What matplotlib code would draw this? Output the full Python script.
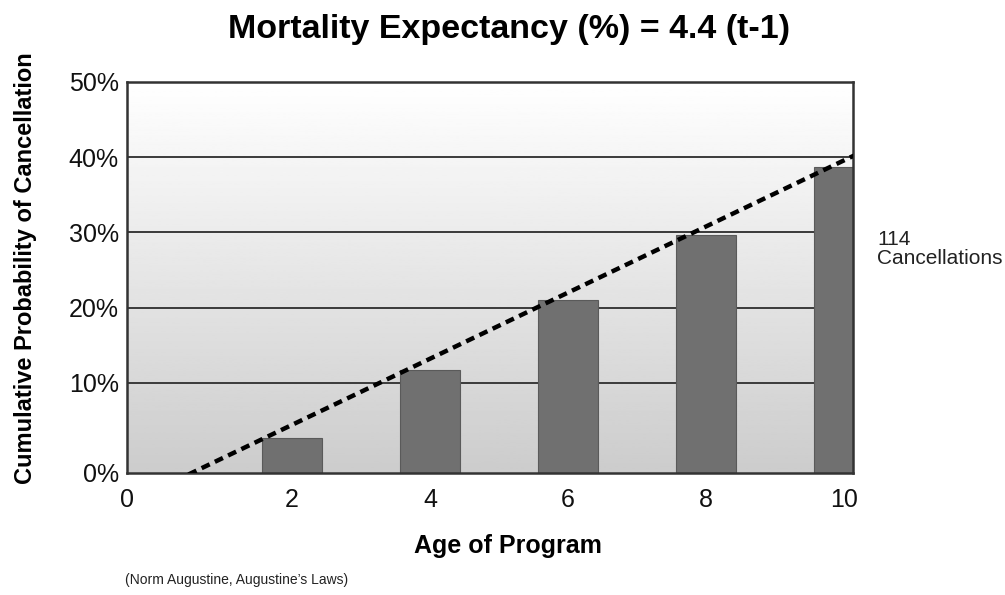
import numpy as np
import matplotlib
matplotlib.use("Agg")
import matplotlib.pyplot as plt

# program age (years) and cumulative probability of cancellation (%)
ages = [2, 4, 6, 8, 10]
cancel_pct = [2.6, 11.7, 21.0, 29.6, 38.7]

# trend line: 4.4 * (t - 1)
trend_t = [0.5, 10.3]
trend_pct = [-2.2, 40.9]

tick_vals = [-0.39, 2, 4, 6, 8, 10]
tick_labels = ["0", "2", "4", "6", "8", "10"]
ytick_vals = [-2, 10, 20, 30, 40, 50]
ytick_labels = ["0%", "10%", "20%", "30%", "40%", "50%"]

plt.rcParams["font.family"] = ["Liberation Sans", "DejaVu Sans"]

fig = plt.figure(figsize=(10.05, 5.95), dpi=100)
ax = fig.add_axes([127 / 1005, 1 - 473 / 595, 726 / 1005, 391 / 595])

x0, x1 = -0.39, 10.13
y0, y1 = -2, 50

# background gradient: white at the top, light grey at the bottom
grad = np.linspace(0.80, 1.0, 256).reshape(-1, 1)
ax.imshow(grad, cmap="gray", vmin=0, vmax=1, origin="lower",
          extent=[x0, x1, y0, y1], aspect="auto", zorder=0)

for g in [10, 20, 30, 40]:
    ax.axhline(g, color="#3a3a3a", lw=1.4, zorder=1)

ax.bar(ages, [v - y0 for v in cancel_pct], bottom=y0, width=0.87,
       color="#707070", edgecolor="#5a5a5a", lw=0.8, zorder=2)

ax.plot(trend_t, trend_pct, color="black", lw=3.2, dashes=(2.0, 1.3),
        zorder=3)

ax.set_xlim(x0, x1)
ax.set_ylim(y0, y1)
ax.set_xticks(tick_vals)
ax.set_xticklabels(tick_labels)
ax.set_yticks(ytick_vals)
ax.set_yticklabels(ytick_labels)
ax.tick_params(length=0, labelsize=18, pad=6, colors="#111111")
ax.tick_params(axis="x", pad=11)
for s in ax.spines.values():
    s.set_color("#333333")
    s.set_linewidth(1.8)

fig.text(0.507, 0.95, "Mortality Expectancy (%) = 4.4 (t-1)",
         ha="center", va="center", fontsize=24.5, fontweight="bold")
ax.set_xlabel("Age of Program", fontsize=18, fontweight="bold")
ax.xaxis.set_label_coords(0.525, -0.155)
ax.set_ylabel("Cumulative Probability of Cancellation", fontsize=17,
              fontweight="bold")
ax.yaxis.set_label_coords(-0.124, 0.524)
fig.text(877 / 1005, 1 - 230 / 595, "114\nCancellations", ha="left",
         va="top", fontsize=15, color="#222222", linespacing=1.0)
fig.text(125 / 1005, 1 - 580 / 595, "(Norm Augustine, Augustine\u2019s Laws)",
         ha="left", va="center", fontsize=10, color="#222222")

fig.savefig("out.png", dpi=100)
